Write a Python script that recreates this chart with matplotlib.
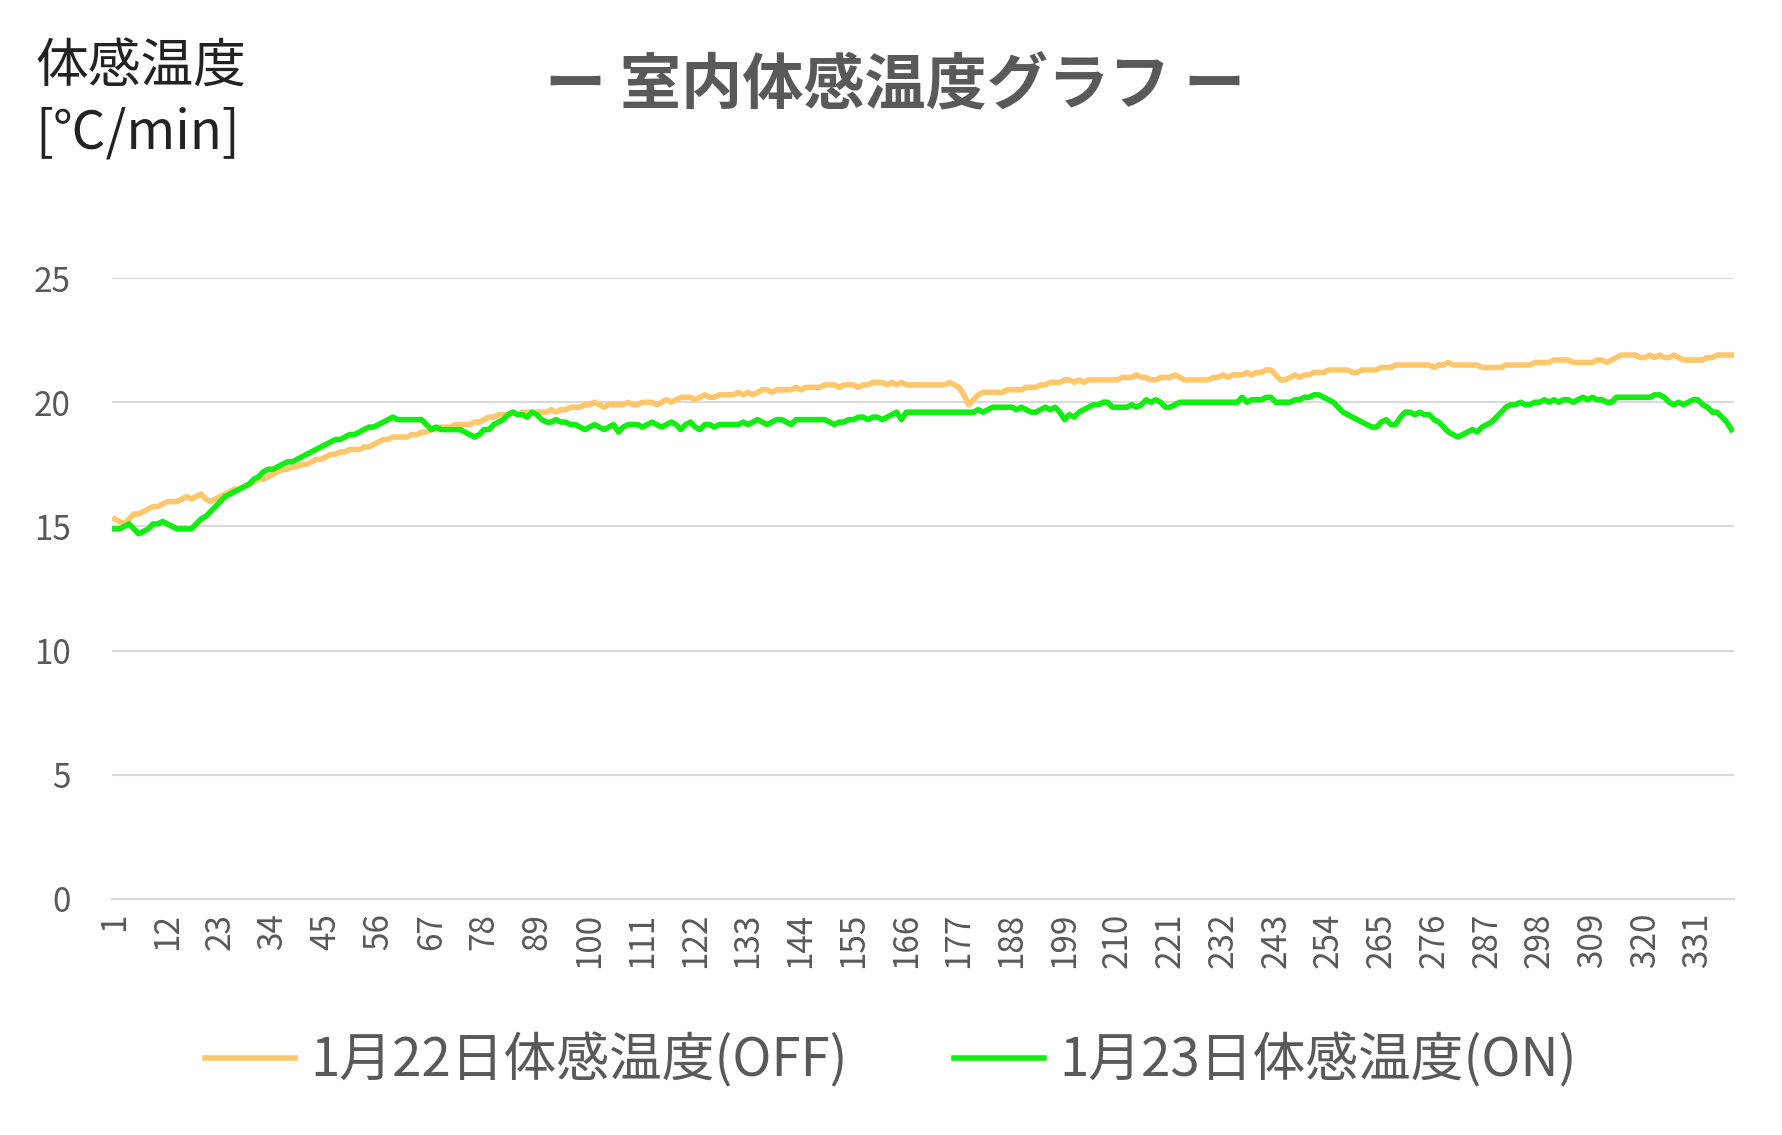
import matplotlib
matplotlib.use("Agg")
import matplotlib.pyplot as plt
import numpy as np

plt.rcParams['font.family'] = ['Noto Sans CJK JP', 'DejaVu Sans']

off_vals = [
15.3,15.2,15.1,15.3,15.5,15.5,15.6,15.7,15.8,15.8,
15.9,16.0,16.0,16.0,16.1,16.2,16.1,16.2,16.3,16.1,
16.0,16.1,16.2,16.3,16.4,16.5,16.5,16.6,16.7,16.8,
16.9,16.9,17.0,17.1,17.2,17.3,17.3,17.4,17.4,17.5,
17.5,17.6,17.7,17.7,17.8,17.9,17.9,18.0,18.0,18.1,
18.1,18.1,18.2,18.2,18.3,18.4,18.5,18.5,18.6,18.6,
18.6,18.6,18.7,18.7,18.8,18.8,18.9,18.9,19.0,19.0,
19.0,19.1,19.1,19.1,19.1,19.2,19.2,19.3,19.4,19.4,
19.5,19.5,19.5,19.6,19.5,19.6,19.6,19.6,19.6,19.6,
19.6,19.7,19.6,19.7,19.7,19.8,19.8,19.8,19.9,19.9,
20.0,19.9,19.8,19.9,19.9,19.9,19.9,20.0,19.9,19.9,
20.0,20.0,20.0,19.9,20.0,20.1,20.0,20.1,20.2,20.2,
20.2,20.1,20.2,20.3,20.2,20.2,20.3,20.3,20.3,20.3,
20.4,20.3,20.4,20.3,20.4,20.5,20.5,20.4,20.5,20.5,
20.5,20.5,20.6,20.5,20.6,20.6,20.6,20.6,20.7,20.7,
20.7,20.6,20.7,20.7,20.7,20.6,20.7,20.7,20.8,20.8,
20.8,20.7,20.8,20.7,20.8,20.7,20.7,20.7,20.7,20.7,
20.7,20.7,20.7,20.7,20.8,20.7,20.6,20.3,19.9,20.1,
20.3,20.4,20.4,20.4,20.4,20.4,20.5,20.5,20.5,20.5,
20.6,20.6,20.6,20.7,20.7,20.8,20.8,20.8,20.9,20.9,
20.8,20.9,20.8,20.9,20.9,20.9,20.9,20.9,20.9,20.9,
21.0,21.0,21.0,21.1,21.0,21.0,20.9,20.9,21.0,21.0,
21.0,21.1,21.0,20.9,20.9,20.9,20.9,20.9,20.9,21.0,
21.0,21.1,21.0,21.1,21.1,21.1,21.2,21.1,21.2,21.2,
21.3,21.3,21.1,20.9,20.9,21.0,21.1,21.0,21.1,21.1,
21.2,21.2,21.2,21.3,21.3,21.3,21.3,21.3,21.2,21.2,
21.3,21.3,21.3,21.3,21.4,21.4,21.4,21.5,21.5,21.5,
21.5,21.5,21.5,21.5,21.5,21.4,21.5,21.5,21.6,21.5,
21.5,21.5,21.5,21.5,21.5,21.4,21.4,21.4,21.4,21.4,
21.5,21.5,21.5,21.5,21.5,21.5,21.6,21.6,21.6,21.6,
21.7,21.7,21.7,21.7,21.6,21.6,21.6,21.6,21.6,21.7,
21.7,21.6,21.7,21.8,21.9,21.9,21.9,21.9,21.8,21.8,
21.9,21.8,21.9,21.8,21.8,21.9,21.8,21.7,21.7,21.7,
21.7,21.7,21.8,21.8,21.9,21.9,21.9,21.9]

on_vals = [
14.9,14.9,15.0,15.1,14.9,14.7,14.8,14.9,15.1,15.1,
15.2,15.1,15.0,14.9,14.9,14.9,14.9,15.1,15.3,15.4,
15.6,15.8,16.0,16.2,16.3,16.4,16.5,16.6,16.7,16.9,
17.0,17.2,17.3,17.3,17.4,17.5,17.6,17.6,17.7,17.8,
17.9,18.0,18.1,18.2,18.3,18.4,18.5,18.5,18.6,18.7,
18.7,18.8,18.9,19.0,19.0,19.1,19.2,19.3,19.4,19.3,
19.3,19.3,19.3,19.3,19.3,19.1,18.9,19.0,18.9,18.9,
18.9,18.9,18.9,18.8,18.7,18.6,18.7,18.9,18.9,19.1,
19.2,19.3,19.5,19.6,19.5,19.5,19.4,19.6,19.5,19.3,
19.2,19.2,19.3,19.2,19.2,19.1,19.1,19.0,18.9,19.0,
19.1,19.0,18.9,19.0,19.1,18.8,19.0,19.1,19.1,19.1,
19.0,19.1,19.2,19.1,19.0,19.1,19.2,19.1,18.9,19.1,
19.2,19.0,18.9,19.1,19.1,19.0,19.1,19.1,19.1,19.1,
19.1,19.2,19.1,19.2,19.3,19.2,19.1,19.2,19.3,19.3,
19.2,19.1,19.3,19.3,19.3,19.3,19.3,19.3,19.3,19.2,
19.1,19.2,19.2,19.3,19.3,19.4,19.4,19.3,19.4,19.4,
19.3,19.4,19.5,19.6,19.3,19.6,19.6,19.6,19.6,19.6,
19.6,19.6,19.6,19.6,19.6,19.6,19.6,19.6,19.6,19.6,
19.7,19.6,19.7,19.8,19.8,19.8,19.8,19.8,19.7,19.8,
19.7,19.6,19.6,19.7,19.8,19.7,19.8,19.6,19.3,19.5,
19.4,19.6,19.7,19.8,19.9,19.9,20.0,20.0,19.8,19.8,
19.8,19.8,19.9,19.8,19.9,20.1,20.0,20.1,20.0,19.8,
19.8,19.9,20.0,20.0,20.0,20.0,20.0,20.0,20.0,20.0,
20.0,20.0,20.0,20.0,20.0,20.2,20.0,20.1,20.1,20.1,
20.2,20.2,20.0,20.0,20.0,20.0,20.1,20.1,20.2,20.2,
20.3,20.3,20.2,20.1,20.0,19.8,19.6,19.5,19.4,19.3,
19.2,19.1,19.0,19.0,19.2,19.3,19.1,19.1,19.4,19.6,
19.6,19.5,19.6,19.5,19.5,19.3,19.2,19.0,18.8,18.7,
18.6,18.7,18.8,18.9,18.8,19.0,19.1,19.2,19.4,19.6,
19.8,19.9,19.9,20.0,19.9,19.9,20.0,20.0,20.1,20.0,
20.1,20.0,20.1,20.1,20.0,20.1,20.2,20.1,20.2,20.1,
20.1,20.0,20.0,20.2,20.2,20.2,20.2,20.2,20.2,20.2,
20.2,20.3,20.3,20.2,20.0,19.9,20.0,19.9,20.0,20.1,
20.1,19.9,19.8,19.6,19.6,19.4,19.2,18.9]

x_idx = list(range(1, len(off_vals) + 1))
x_ticks = list(range(1, 332, 11))
y_ticks = [0, 5, 10, 15, 20, 25]
labels = ['1月22日体感温度(OFF)', '1月23日体感温度(ON)']
title = 'ー 室内体感温度グラフ ー'
ylab = '体感温度\n[℃/min]'

grey = '#595959'
fig = plt.figure(figsize=(17.82, 11.35), dpi=100)
ax = fig.add_axes([0.063, 0.208, 0.91, 0.547])
ax.plot(x_idx, off_vals, color='#FFC66B', lw=4, label=labels[0])
ax.plot(x_idx, on_vals, color='#11EE11', lw=4, label=labels[1])
ax.set_xlim(0.5, len(off_vals) + 0.5)
ax.set_ylim(0, 25)
ax.set_yticks(y_ticks)
ax.set_xticks(x_ticks)
ax.set_xticklabels([str(t) for t in x_ticks], rotation=90)
ax.grid(axis='y', color='#d9d9d9', lw=1.5)
ax.set_axisbelow(True)
for s in ['top', 'right', 'left']:
    ax.spines[s].set_visible(False)
ax.spines['bottom'].set_color('#d9d9d9')
ax.spines['bottom'].set_linewidth(1.5)
ax.tick_params(axis='both', length=0, labelsize=24, colors=grey, pad=10)
ax.tick_params(axis='y', pad=30)

fig.text(0.502, 0.924, title, ha='center', va='center', fontsize=44, fontweight='bold', color=grey)
fig.text(0.02, 0.965, ylab, ha='left', va='top', fontsize=38, color='#222222', linespacing=1.25)
fig.legend(loc='center', bbox_to_anchor=(0.5, 0.065), ncol=2, frameon=False,
           fontsize=38, handlelength=1.7, handletextpad=0.3, columnspacing=2.0, labelcolor=grey)
fig.savefig('out.png', dpi=100)
